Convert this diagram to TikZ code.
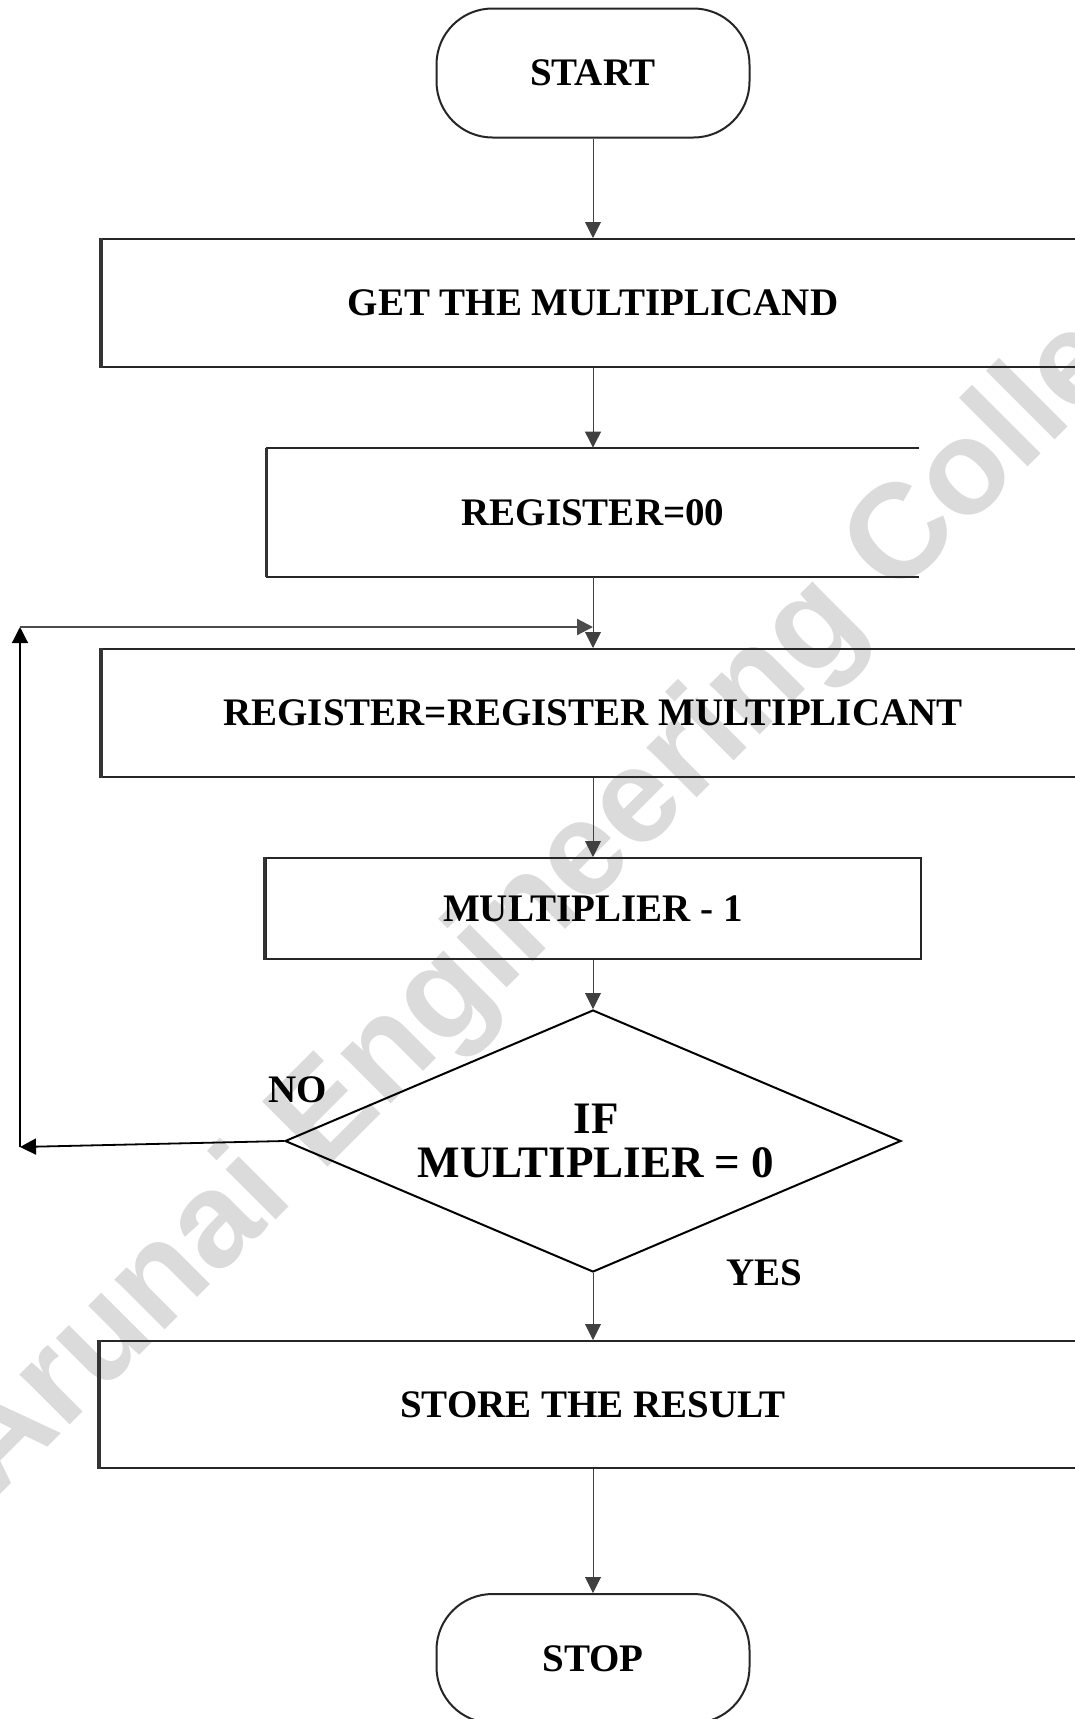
\documentclass[tikz,border=0pt]{standalone}
\usepackage{fontspec}
\setmainfont{Liberation Serif}
\newfontfamily\wmfont{Liberation Sans}
\usetikzlibrary{arrows.meta,shapes.geometric}

\begin{document}
\begin{tikzpicture}[x=0.5pt,y=-0.5pt,
  lbl/.style={font=\bfseries\fontsize{19.5}{22}\selectfont},
  box/.style={draw=black!85, line width=1pt, inner sep=0pt, lbl},
  term/.style={box, rounded corners=28pt, minimum width=156.5pt, minimum height=64.5pt},
  flow/.style={draw=black!75, line width=0.45pt, -{Triangle[length=8pt,width=8pt]}},
  loopline/.style={draw=black, line width=0.9pt, -{Triangle[length=8pt,width=8pt]}},
  leftedge/.style={draw=black!80, line width=1.6pt},
]
\useasboundingbox (0,0) rectangle (1075,1719);
\clip (0,0) rectangle (1075,1719);
\fill[white] (0,0) rectangle (1075,1719);

% watermark
\node[rotate=45, anchor=base west, inner sep=0pt, text=black!14,
      font=\wmfont\bfseries\fontsize{67}{67}\selectfont] (wm) at (-5,1500)
      {Arunai Engineering College};

% process steps
\node[term] (start) at (593,73) {START};
\node[box, minimum width=491pt, minimum height=64pt] (get) at (593,303) {GET THE MULTIPLICAND};
\node[lbl, inner sep=0pt, minimum width=326pt, minimum height=64.5pt] (r00) at (593,512.5) {REGISTER=00};
\draw[line width=1pt, draw=black!85] (r00.north east) -- (r00.north west) -- (r00.south west) -- (r00.south east);
\node[box, minimum width=491pt, minimum height=64pt] (rr) at (593,713) {REGISTER=REGISTER MULTIPLICANT};
\node[box, minimum width=327.5pt, minimum height=50.5pt] (m1) at (593,908.5) {MULTIPLIER - 1};
\node[diamond, draw=black, line width=1pt, minimum width=308pt, minimum height=131pt, inner sep=0pt] (dec) at (593,1141) {};
\node[align=center, inner sep=0pt, font=\bfseries\fontsize{22.5}{22}\selectfont] (dect) at (596,1141) {IF\\MULTIPLIER = 0};
\node[box, minimum width=493pt, minimum height=63.5pt] (store) at (593,1404.5) {STORE THE RESULT};
\node[term] (stop) at (593,1658.5) {STOP};

% heavier left sides of the boxes
\foreach \b in {get,r00,rr,m1,store}
  \draw[leftedge] (\b.north west) -- (\b.south west);

% branch labels
\node[lbl] (no) at (298,1090) {NO};
\node[lbl] (yes) at (764,1273) {YES};

% main flow
\draw[flow] (start) -- (get);
\draw[flow] (get) -- (r00);
\draw[flow] (r00) -- (rr);
\draw[flow] (rr) -- (m1);
\draw[flow] (m1) -- (dec);
\draw[flow] (dec) -- (store);
\draw[flow] (store) -- (stop);

% loop back when the multiplier is not zero
\coordinate (nl) at (20,1147);
\coordinate (nt) at (20,627);
\coordinate (join) at (593,627);
\draw[loopline] (dec.west) -- (nl);
\draw[loopline, line width=0.6pt] (nl) -- (nt);
\draw[loopline, draw=black!70, line width=1.1pt] (nt) -- (join);
\end{tikzpicture}
\end{document}
